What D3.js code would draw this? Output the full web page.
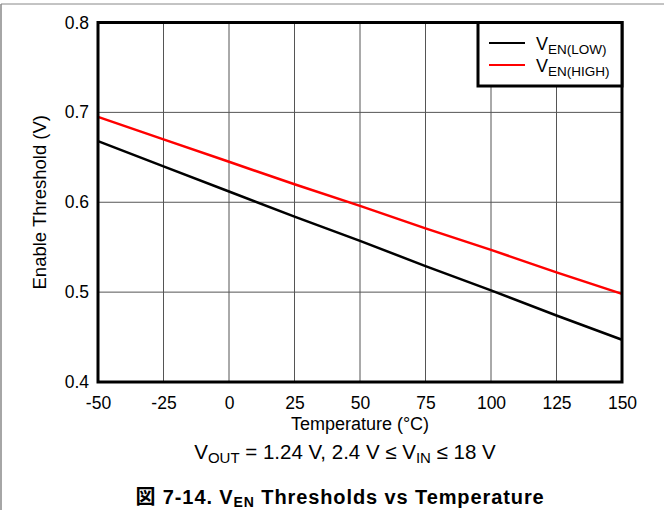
<!DOCTYPE html>
<html>
<head>
<meta charset="utf-8">
<script src="https://cdn.jsdelivr.net/npm/d3@7"></script>
<style>
  body { margin: 0; background: #fff; }
  svg { display: block; font-family: "Liberation Sans", Arial, sans-serif; }
</style>
</head>
<body>
<svg id="chart" width="664" height="510"></svg>
<script>
// Temperature sweep (°C)
const temperatures = [-50, -25, 0, 25, 50, 75, 100, 125, 150];
// Enable thresholds (V)
const venLow  = [0.668, 0.640, 0.612, 0.584, 0.557, 0.529, 0.502, 0.474, 0.447];
const venHigh = [0.695, 0.670, 0.645, 0.620, 0.596, 0.571, 0.547, 0.522, 0.498];
const xTicks = [-50, -25, 0, 25, 50, 75, 100, 125, 150];
const yTicks = [0.4, 0.5, 0.6, 0.7, 0.8];

const series = [
  { name: "LOW",  values: venLow,  color: "#000000" },
  { name: "HIGH", values: venHigh, color: "#ff0000" }
];

const svg = d3.select("#chart");
const m = { left: 98, right: 622, top: 22.5, bottom: 382 };

const x = d3.scaleLinear().domain([-50, 150]).range([m.left, m.right]);
const y = d3.scaleLinear().domain([0.4, 0.8]).range([m.bottom, m.top]);

// page frame (top and left rules)
svg.append("line").attr("x1", 1).attr("x2", 664).attr("y1", 4).attr("y2", 4)
  .attr("stroke", "#888").attr("stroke-width", 1);
svg.append("line").attr("x1", 1).attr("x2", 1).attr("y1", 4).attr("y2", 510)
  .attr("stroke", "#888").attr("stroke-width", 1.5);

// grid
const grid = svg.append("g").attr("stroke", "#555").attr("stroke-width", 1);
grid.selectAll("line.v").data(xTicks).join("line").attr("class", "v")
  .attr("x1", d => x(d)).attr("x2", d => x(d))
  .attr("y1", m.top).attr("y2", m.bottom);
grid.selectAll("line.h").data(yTicks).join("line").attr("class", "h")
  .attr("x1", m.left).attr("x2", m.right)
  .attr("y1", d => y(d)).attr("y2", d => y(d));

// axes (labels only, frame drawn separately); plain hyphen for negatives
const xAxis = svg.append("g").attr("transform", `translate(0,${m.bottom})`)
  .call(d3.axisBottom(x).tickValues(xTicks).tickSize(0).tickPadding(14.5).tickFormat(d => String(d)));
const yAxis = svg.append("g").attr("transform", `translate(${m.left},0)`)
  .call(d3.axisLeft(y).tickValues(yTicks).tickSize(0).tickPadding(9).tickFormat(d3.format(".1f")));
[xAxis, yAxis].forEach(a => {
  a.select(".domain").remove();
  a.selectAll("text").attr("font-size", 17.5).attr("fill", "#000")
    .attr("font-family", "Liberation Sans, Arial, sans-serif");
});

// data lines
const line = d3.line().x((d, i) => x(temperatures[i])).y(d => y(d));
svg.selectAll("path.series").data(series).join("path").attr("class", "series")
  .attr("d", d => line(d.values))
  .attr("fill", "none").attr("stroke", d => d.color).attr("stroke-width", 2.5);

// plot border
svg.append("rect").attr("x", m.left).attr("y", m.top)
  .attr("width", m.right - m.left).attr("height", m.bottom - m.top)
  .attr("fill", "none").attr("stroke", "#000").attr("stroke-width", 3);

// legend
const lg = svg.append("g");
lg.append("rect").attr("x", 478).attr("y", m.top).attr("width", m.right - 478).attr("height", 86 - m.top)
  .attr("fill", "#fff").attr("stroke", "#000").attr("stroke-width", 3);
series.forEach((s, i) => {
  const yy = 43 + i * 22;
  lg.append("line").attr("x1", 489).attr("x2", 525).attr("y1", yy).attr("y2", yy)
    .attr("stroke", s.color).attr("stroke-width", 2);
  const t = lg.append("text").attr("x", 536).attr("y", yy + 7).attr("font-size", 18).attr("fill", "#000");
  t.append("tspan").text("V");
  t.append("tspan").attr("font-size", 13.5).attr("dy", 4).text(`EN(${s.name})`);
});

// axis titles
svg.append("text").attr("x", (m.left + m.right) / 2).attr("y", 430)
  .attr("text-anchor", "middle").attr("font-size", 18).text("Temperature (°C)");
svg.append("text").attr("transform", `translate(46,${(m.top + m.bottom) / 2}) rotate(-90)`)
  .attr("text-anchor", "middle").attr("font-size", 18.5).text("Enable Threshold (V)");

// conditions
const cond = svg.append("text").attr("x", 345).attr("y", 459).attr("text-anchor", "middle").attr("font-size", 20.5);
cond.append("tspan").text("V");
cond.append("tspan").attr("font-size", 15).attr("dy", 4).text("OUT");
cond.append("tspan").attr("dy", -4).text(" = 1.24 V, 2.4 V ≤ V");
cond.append("tspan").attr("font-size", 15).attr("dy", 4).text("IN");
cond.append("tspan").attr("dy", -4).text(" ≤ 18 V");

// figure caption
const cap = svg.append("text").attr("x", 340).attr("y", 504).attr("text-anchor", "middle")
  .attr("font-size", 20).attr("font-weight", "bold").attr("letter-spacing", 0.9);
cap.append("tspan").attr("font-family", "Noto Sans CJK JP").text("図");
cap.append("tspan").text(" 7-14. V");
cap.append("tspan").attr("font-size", 14).attr("dy", 3).text("EN");
cap.append("tspan").attr("dy", -3).text(" Thresholds vs Temperature");
</script>
</body>
</html>
